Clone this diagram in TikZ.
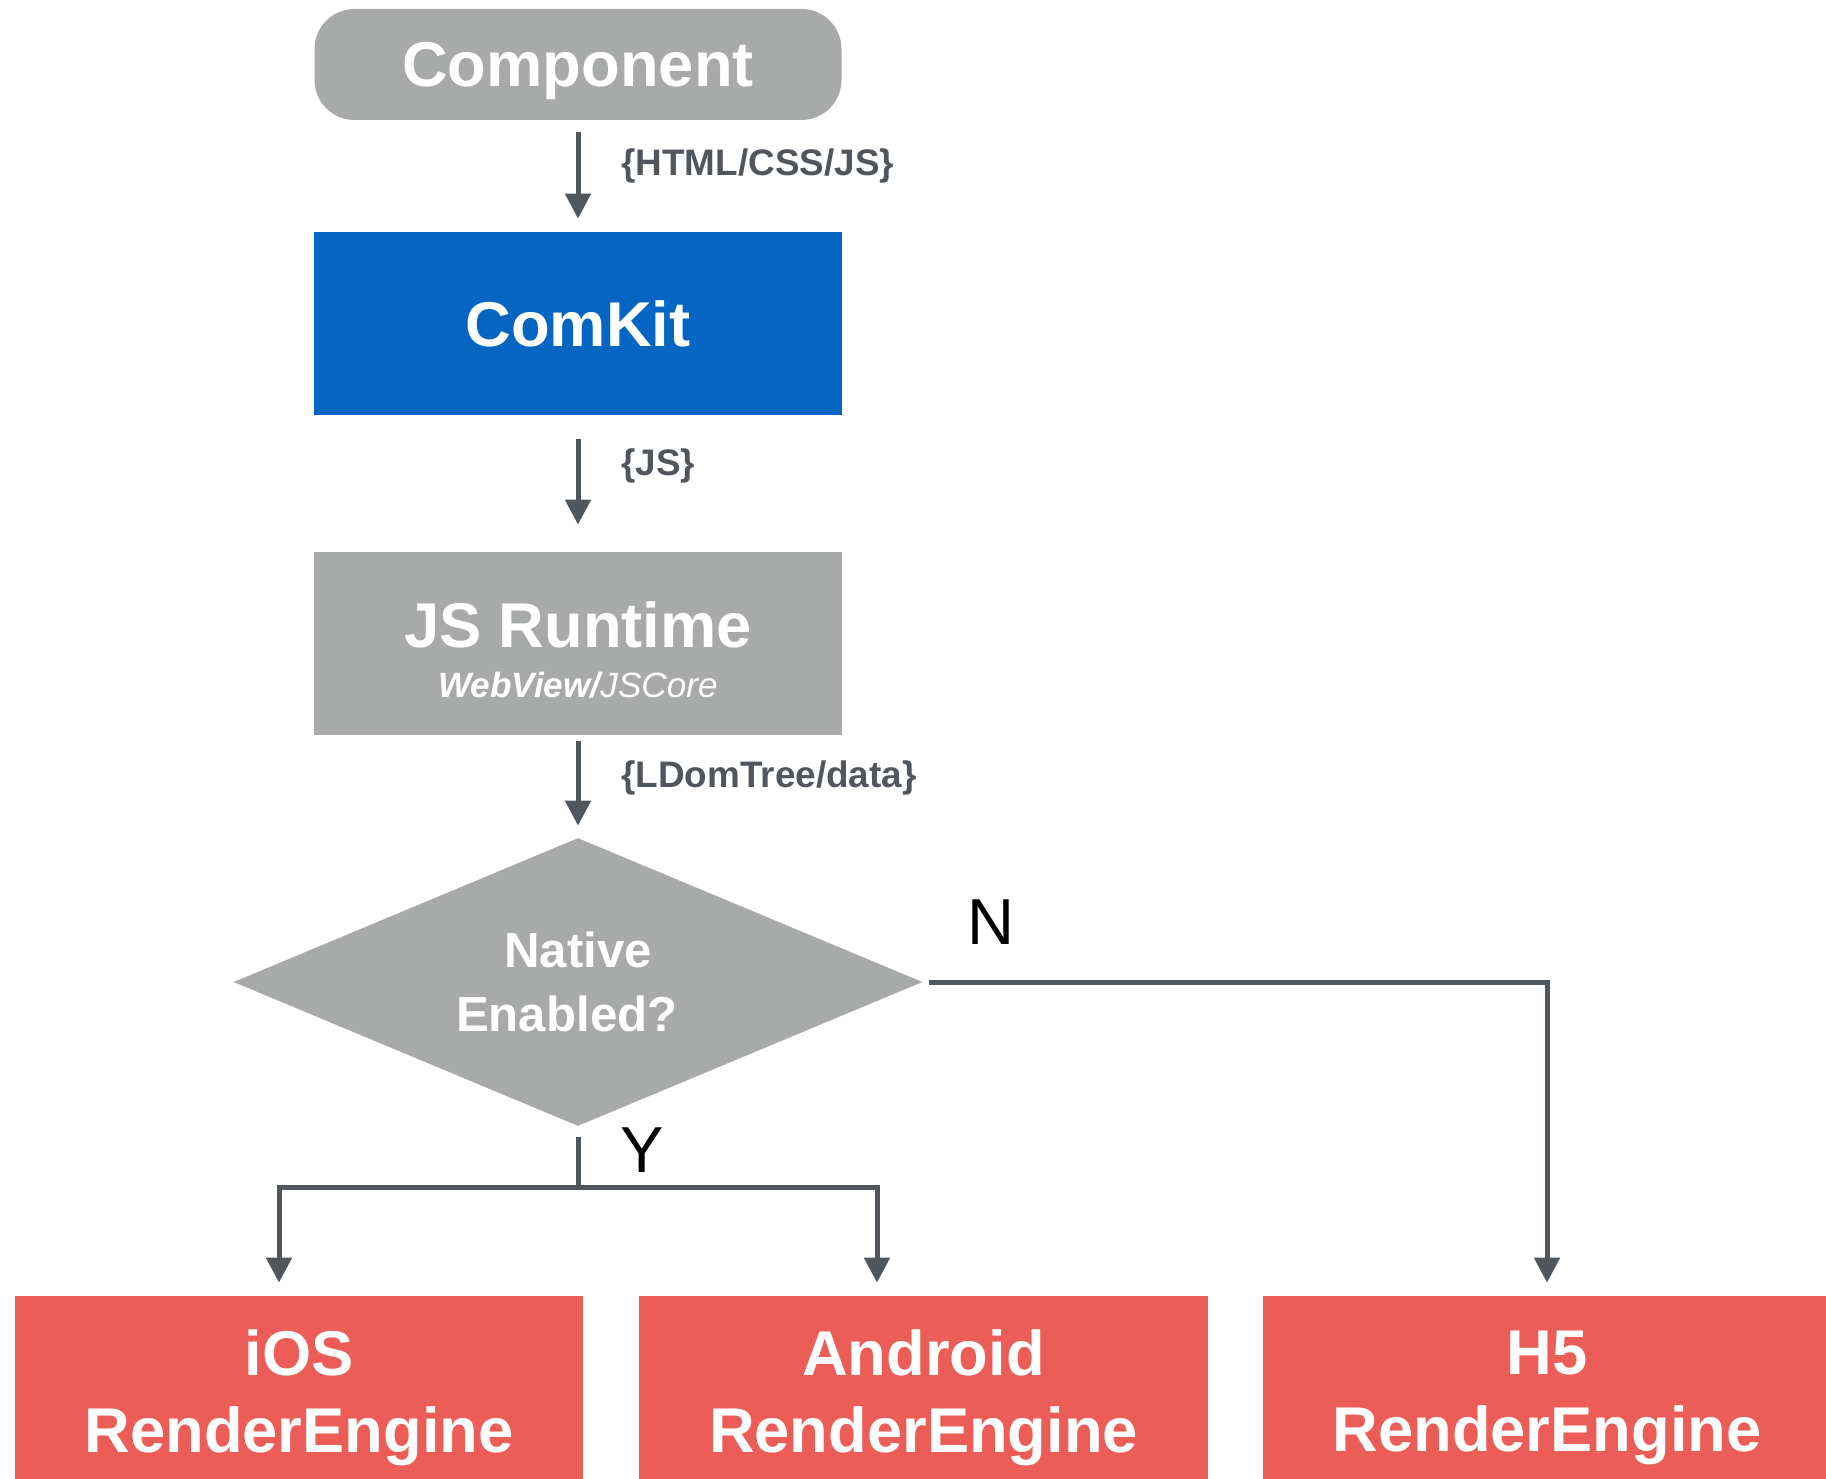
\documentclass[tikz,border=0pt]{standalone}
\usepackage{fontspec}
\setmainfont{Liberation Sans}
\usetikzlibrary{shapes, calc, arrows.meta, positioning}

\definecolor{boxgrey}{HTML}{A7AAA9}
\definecolor{kitblue}{HTML}{0466C2}
\definecolor{enginered}{HTML}{EC5D57}
\definecolor{linkgrey}{HTML}{51565C}

\begin{document}
\begin{tikzpicture}[>={Triangle[length=0.5cm, width=0.5cm]},
  box/.style={inner sep=0pt, text=white, align=center, text depth=0pt,
    font=\bfseries\fontsize{36}{43.8}\selectfont},
  link/.style={draw=linkgrey, line width=0.1cm},
  tag/.style={text=linkgrey, anchor=west, font=\bfseries\fontsize{21}{25}\selectfont},
  yn/.style={font=\fontsize{37}{44}\selectfont}]
  \path[use as bounding box, clip] (0,0) rectangle (36.52,-29.56);

  \node[box, fill=boxgrey, rounded corners=0.8cm, minimum width=10.54cm, minimum height=2.22cm] (component) at (11.56,-1.29) {Component};
  \node[box, fill=kitblue, minimum width=10.56cm, minimum height=3.66cm] (kit) at (11.56,-6.47) {ComKit};
  \node[box, fill=boxgrey, minimum width=10.56cm, minimum height=3.66cm] (runtime) at (11.56,-12.87)
    {\rule{0pt}{32.5pt}JS Runtime\\[-15.3pt]{\fontsize{20}{24}\selectfont\itshape WebView/{\mdseries JSCore}}};
  \node[box, shape=diamond, aspect=2.4, fill=boxgrey, minimum width=13.78cm, minimum height=5.76cm,
    font=\bfseries\fontsize{28}{36.4}\selectfont] (native) at (11.56,-19.64) {Native\\Enabled?\hspace*{0.45cm}};

  \node[box, fill=enginered, minimum width=11.36cm, minimum height=3.8cm] (ios) at (5.98,-27.82) {iOS\\RenderEngine};
  \node[box, fill=enginered, minimum width=11.38cm, minimum height=3.8cm] (android) at (18.47,-27.82) {Android\\RenderEngine};
  \node[box, fill=enginered, minimum width=11.36cm, minimum height=3.8cm] (h5) at (30.94,-27.82) {H5\\RenderEngine};

  \draw[link, ->, shorten <=0.24cm, shorten >=0.26cm] (component) -- (kit)
    node[tag, pos=0.41, xshift=0.7cm] (tag-html) {\{HTML/CSS/JS\}};
  \draw[link, ->, shorten <=0.48cm, shorten >=0.54cm] (kit) -- (runtime)
    node[tag, pos=0.37, xshift=0.7cm] (tag-js) {\{JS\}};
  \draw[link, ->, shorten <=0.12cm, shorten >=0.24cm] (runtime) -- (native)
    node[tag, pos=0.415, xshift=0.7cm] (tag-dom) {\{LDomTree/data\}};

  % N branch
  \draw[link, ->, shorten <=0.12cm, shorten >=0.26cm] (native.east) -| (h5.north);
  \node[yn] (no) at ([xshift=1.36cm, yshift=1.2cm]native.east) {N};

  % Y branch
  \coordinate (yfork) at ([yshift=-1.22cm]native.south);
  \draw[link] ([yshift=-0.22cm]native.south) -- (yfork);
  \draw[link, ->, shorten >=0.26cm] (yfork) -| ([xshift=-0.4cm]ios.north);
  \draw[link, ->, shorten >=0.26cm] (yfork) -| ([xshift=-0.93cm]android.north);
  \node[yn] (yes) at ([xshift=1.28cm, yshift=-0.47cm]native.south) {Y};
\end{tikzpicture}
\end{document}
